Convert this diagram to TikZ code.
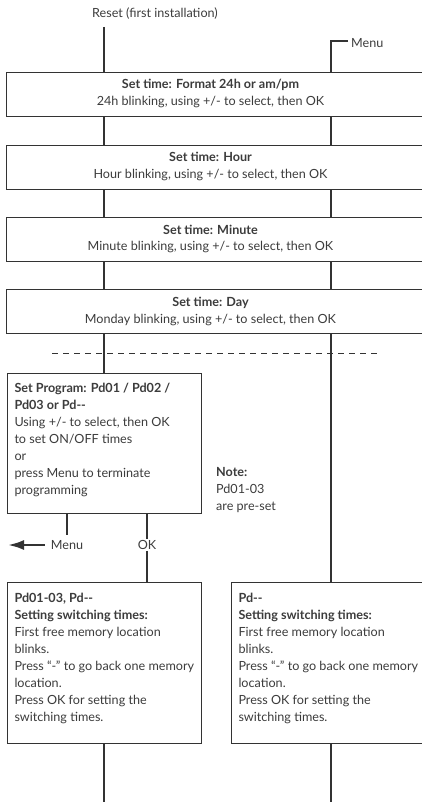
\documentclass[tikz,border=0pt]{standalone}
\usepackage{fontspec}
\setmainfont{Lato}
\usetikzlibrary{arrows.meta}
\definecolor{ink}{HTML}{333333}
\definecolor{txt}{HTML}{3C3C3C}
\newcommand\widetext[2]{\makebox[422pt][l]{\parbox[c][44pt][t]{408pt}{\centering\rule{0pt}{16.5pt}\textbf{#1}\\#2}}}
\begin{document}
\begin{tikzpicture}[x=1pt,y=-1pt,
  font=\fontsize{12.6}{17}\selectfont, text=txt,
  conn/.style={draw=ink, line width=2.4pt},
  wbox/.style={draw=ink, line width=1pt, anchor=north west, inner sep=0pt, fill=white},
  pbox/.style={draw=ink, line width=1pt, anchor=north west, inner xsep=7pt, inner ysep=0pt, fill=white},
  lbl/.style={inner sep=1pt}]
\useasboundingbox (0,0) rectangle (422,802);

% top labels
\node[lbl] (reset) at (155,14) {Reset (first installation)};
\coordinate (r0) at (104,27);
\node[lbl, anchor=west] (menu) at (350,43) {Menu};
\coordinate (m0) at (331,41);

% wide boxes
\node[wbox] (b1) at (6,72)  {\widetext{Set time: Format 24h or am/pm}{24h blinking, using +/- to select, then OK}};
\node[wbox] (b2) at (6,145) {\widetext{Set time: Hour}{Hour blinking, using +/- to select, then OK}};
\node[wbox] (b3) at (6,217) {\widetext{Set time: Minute}{Minute blinking, using +/- to select, then OK}};
\node[wbox] (b4) at (6,289) {\widetext{Set time: Day}{Monday blinking, using +/- to select, then OK}};

% program box
\node[pbox] (b5) at (7,373) {\parbox[c][140pt][t]{180pt}{\rule{0pt}{19pt}\textbf{Set Program: Pd01 / Pd02 /}\\
\textbf{Pd03 or Pd-{}-}\\
Using +/- to select, then OK\\
to set ON/OFF times\\
or\\
press Menu to terminate\\
programming}};

\node[anchor=base west, inner sep=0pt] (note) at (216,476) {\parbox[t]{90pt}{\textbf{Note:}\\Pd01-03\\are pre-set}};

% switching-time boxes
\node[pbox] (b6) at (7,582) {\parbox[c][161pt][t]{180pt}{\rule{0pt}{20pt}\textbf{Pd01-03, Pd-{}-}\\
\textbf{Setting switching times:}\\
First free memory location\\
blinks.\\
Press ``-'' to go back one memory\\
location.\\
Press OK for setting the\\
switching times.}};
\node[pbox] (b7) at (231,582) {\parbox[c][161pt][t]{240pt}{\rule{0pt}{20pt}\textbf{Pd-{}-}\\
\textbf{Setting switching times:}\\
First free memory location\\
blinks.\\
Press ``-'' to go back one memory\\
location.\\
Press OK for setting the\\
switching times.}};

% Menu / OK labels under program box
\node[lbl] (menu2) at (67,545) {Menu};
\node[lbl] (ok) at (147,545) {OK};
\coordinate (c67) at (67,535);
\coordinate (arrend) at (8,545);
\coordinate (bl) at (104,802);
\coordinate (br) at (331,802);

% connectors
\draw[conn] (r0) -- (r0 |- b1.north);
\draw[conn] ([xshift=-2pt]menu.west |- m0) -- (m0) -- (m0 |- b1.north);
\foreach \a/\b in {b1/b2, b2/b3, b3/b4}{
  \draw[conn] (\a.south -| r0) -- (\b.north -| r0);
  \draw[conn] (\a.south -| m0) -- (\b.north -| m0);
}
\draw[conn] (b4.south -| r0) -- (b5.north -| r0);
\draw[conn] (b4.south -| m0) -- (b7.north -| m0);
\draw[conn] (b5.south -| c67) -- (c67);
\draw[conn] (b5.south -| ok) -- (ok.north);
\draw[conn] (ok.south) -- (b6.north -| ok);
\draw[conn, -{Latex[length=16pt,width=10pt]}] ([xshift=-5pt]menu2.west) -- (arrend);
\draw[conn] (b6.south -| bl) -- (bl);
\draw[conn] (b7.south -| br) -- (br);

% dashed separator
\coordinate (d0) at (52,353);
\coordinate (d1) at (378,353);
\draw[draw=ink, line width=0.8pt, dash pattern=on 6pt off 5pt] (d0) -- (d1);
\end{tikzpicture}
\end{document}
